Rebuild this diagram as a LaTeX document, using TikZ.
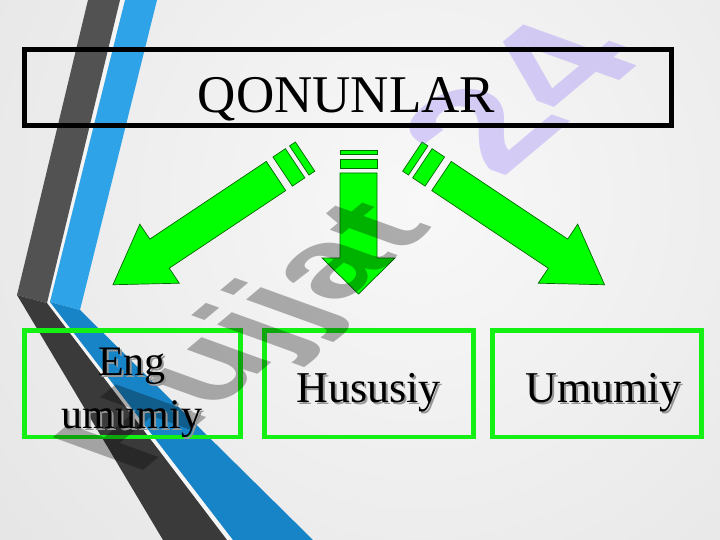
\documentclass[tikz,border=0pt]{standalone}
\usepackage{fontspec}
\setmainfont{Liberation Serif}
\newfontfamily\wmfont{Liberation Sans}
\definecolor{bgin}{RGB}{248,248,248}
\definecolor{bgout}{RGB}{214,214,214}
\definecolor{darkA}{RGB}{82,82,82}
\definecolor{darkB}{RGB}{58,58,58}
\definecolor{blueA}{RGB}{46,163,232}
\definecolor{blueB}{RGB}{24,132,200}
\definecolor{agreen}{RGB}{0,255,0}
\definecolor{aline}{RGB}{0,105,0}
\definecolor{bgreen}{RGB}{20,240,20}
\definecolor{wmpurple}{RGB}{130,100,250}
\definecolor{shadowc}{RGB}{150,150,150}
\newcommand{\shadowed}[1]{\rlap{\kern2pt\raisebox{-2pt}{\textcolor{shadowc}{#1}}}#1}
\tikzset{
  arrowsty/.style={fill=agreen, draw=aline, line width=0.7pt, line join=miter},
  titlebox/.style={draw=black, line width=5pt, minimum width=646.5pt, minimum height=76pt, inner sep=0pt},
  greenbox/.style={draw=bgreen, line width=4.5pt, minimum height=106.5pt, inner sep=0pt},
  txt/.style={anchor=base, inner sep=0pt, text=black},
  wmgray/.style={anchor=base west, inner sep=0pt, text=black, text opacity=0.3, transform shape},
  wmlav/.style={anchor=base west, inner sep=0pt, text=wmpurple, text opacity=0.28, transform shape}
}
\begin{document}
\begin{tikzpicture}[x=1pt, y=-1pt]
\useasboundingbox (0,0) rectangle (720,540);
% background
\begin{scope}
  \clip (0,0) rectangle (720,540);
  \shade[inner color=bgin, outer color=bgout] (-580,-800) rectangle (1420,1200);
\end{scope}
% decorative stripes
\fill[white!92!gray] (120,0) -- (125,0) -- (50,302) -- (233,540) -- (227,540) -- (47,303) -- cycle;
\fill[darkA] (88,0) -- (120,0) -- (47,303) -- (17,295) -- cycle;
\fill[darkB] (17,295) -- (47,303) -- (227,540) -- (163,540) -- cycle;
\fill[blueA] (125,0) -- (157,0) -- (80,310) -- (50,302) -- cycle;
\fill[blueB] (50,302) -- (80,310) -- (313,540) -- (233,540) -- cycle;
% left striped arrow
\begin{scope}[shift={(276,176)}, rotate=-146.3]
  \coordinate (ltail) at (0,0);
  \draw[arrowsty] (0,-17.5) -- (140,-17.5) -- (140,-35.5) -- (196,0) -- (140,35.5) -- (140,17.5) -- (0,17.5) -- cycle;
  \draw[arrowsty] (-23,-17.5) rectangle (-8,17.5);
  \draw[arrowsty] (-35,-17.5) rectangle (-28,17.5);
\end{scope}
% right striped arrow
\begin{scope}[shift={(441.5,176)}, rotate=-33.7]
  \coordinate (rtail) at (0,0);
  \draw[arrowsty] (0,-17.5) -- (140,-17.5) -- (140,-35.5) -- (196,0) -- (140,35.5) -- (140,17.5) -- (0,17.5) -- cycle;
  \draw[arrowsty] (-23,-17.5) rectangle (-8,17.5);
  \draw[arrowsty] (-35,-17.5) rectangle (-28,17.5);
\end{scope}
% middle striped arrow
\begin{scope}[shift={(358.5,173)}, rotate=-90]
  \coordinate (mtail) at (0,0);
  \draw[arrowsty] (0,-18.5) -- (85,-18.5) -- (85,-36.5) -- (121,0) -- (85,36.5) -- (85,18.5) -- (0,18.5) -- cycle;
  \draw[arrowsty] (-14,-18.5) rectangle (-5,18.5);
  \draw[arrowsty] (-23,-18.5) rectangle (-19,18.5);
\end{scope}
% green boxes
\node[greenbox, minimum width=216pt] (b1) at (132.5,383.75) {};
\node[greenbox, minimum width=209pt] (b2) at (369,383.75) {};
\node[greenbox, minimum width=209pt] (b3) at (597,383.75) {};
% watermark
\begin{scope}[shift={(136,477)}, cm={0.766,0.643,-0.94,0.34,(0,0)}]
  \node[wmgray] (wm1) at (0,0) {\wmfont\bfseries\fontsize{140}{140}\selectfont Hujjat};
\end{scope}
\begin{scope}[shift={(501,180)}, cm={0.766,0.643,-0.94,0.34,(0,0)}]
  \node[wmlav] (wm2) at (0,0) {\wmfont\bfseries\fontsize{175}{175}\selectfont 24};
\end{scope}
% title box
\node[titlebox] (title) at (347.75,88) {};
\node[txt] (qon) at (346.5,113) {\fontsize{53}{60}\selectfont QONUNLAR};
% box texts with shadows
\node[txt] (eng) at (132,375) {\fontsize{42}{50}\selectfont\shadowed{Eng}};
\node[txt] (umu) at (132,428) {\fontsize{42}{50}\selectfont\shadowed{umumiy}};
\node[txt] (hus) at (368.5,402) {\fontsize{44}{50}\selectfont\shadowed{Hususiy}};
\node[txt] (um) at (603.5,402) {\fontsize{44}{50}\selectfont\shadowed{Umumiy}};
\end{tikzpicture}
\end{document}
